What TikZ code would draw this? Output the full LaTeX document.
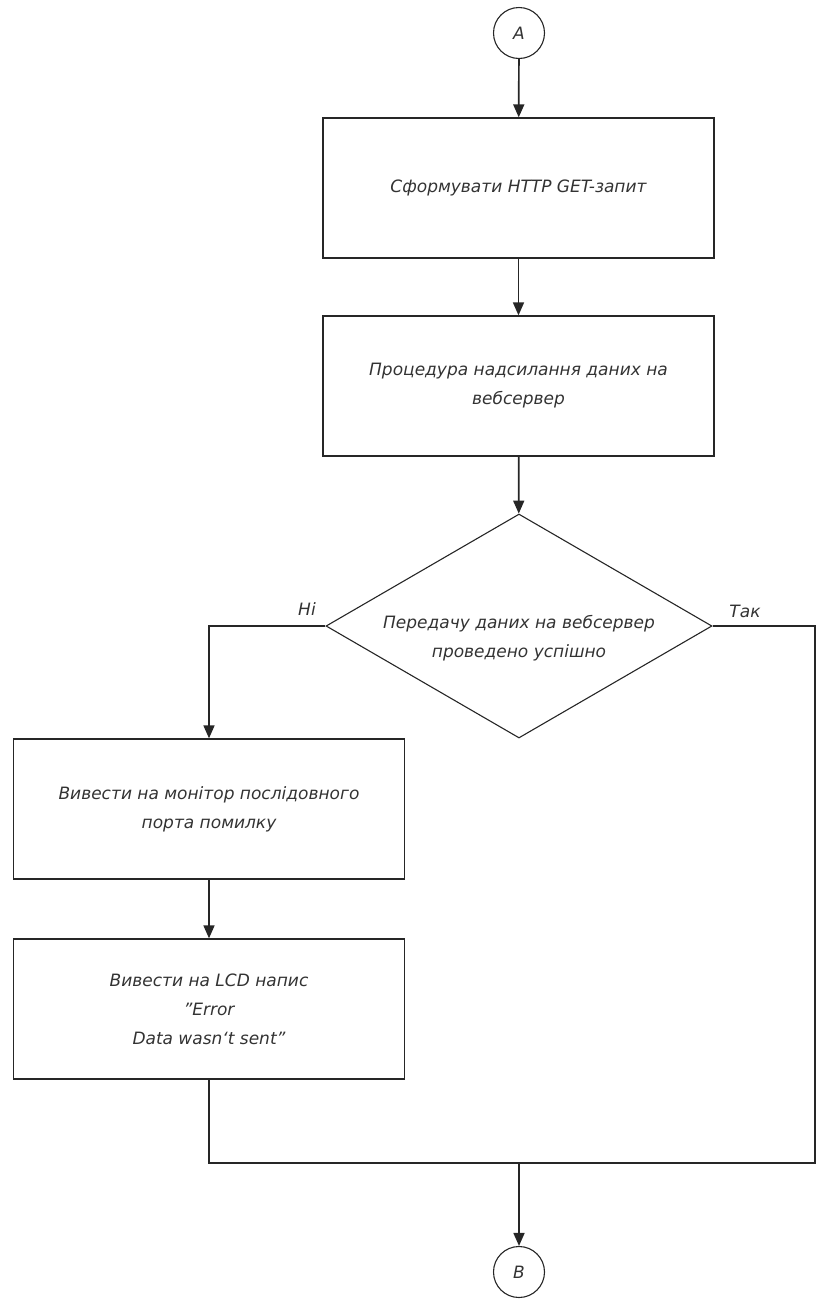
\documentclass[tikz,border=0pt]{standalone}
\usepackage{fontspec}
\setmainfont{DejaVu Sans}
\usetikzlibrary{shapes.geometric,arrows.meta}

\begin{document}
\begin{tikzpicture}[x=1pt, y=-1pt, line width=1.7pt, draw=black!85,
    every node/.style = {font=\itshape\fontsize{17}{29}\selectfont, text=black!80},
    blk/.style = {draw, rectangle, minimum width=391pt, minimum height=140pt, align=center, inner sep=0pt, line width=1.3pt},
    term/.style = {draw, circle, minimum size=51pt, inner sep=0pt, line width=1.1pt},
    dec/.style = {draw, diamond, aspect=1.72, minimum width=386pt, minimum height=224pt, inner sep=0pt, line width=1.1pt},
    arr/.style = {-{Triangle[length=13pt,width=11pt]}}]
    \useasboundingbox (0,0) rectangle (816,1299);

    % blocks of the chart
    \node[term] (A) at (519,33) {A};
    \node[blk] (form) at (518.5,188) {Сформувати HTTP GET-запит};
    \node[blk] (send) at (518.5,386) {Процедура надсилання даних на\\вебсервер};
    \node[dec] (check) at (519,626) {};
    \node[align=center] (checktxt) at (519,638) {Передачу даних на вебсервер\\проведено успішно};
    \node[blk] (err) at (209,809) {Вивести на монітор послідовного\\порта помилку};
    \node[blk] (lcd) at (209,1009) {Вивести на LCD напис\\"Error\\Data wasn\char"60 t sent"};
    \node[term] (B) at (519,1272) {B};

    \coordinate (tr) at (815,626);
    \coordinate (br) at (815,1163);
    \coordinate (join) at (519,1163);
    \coordinate (bl) at (209,1163);

    % connectors
    \draw[arr] (A) -- (form);
    \draw[arr] (form) -- (send);
    \draw[arr] (send) -- (check);
    \draw[arr] (check.west) -| (err.north);
    \draw[arr] (err) -- (lcd);
    \draw (check.east) -- (tr) -- (br) -- (join);
    \draw (lcd) -- (bl) -- (join);
    \draw[arr] (join) -- (B);

    \node (no) at (307,609) {Ні};
    \node (yes) at (745,611) {Так};
\end{tikzpicture}
\end{document}
